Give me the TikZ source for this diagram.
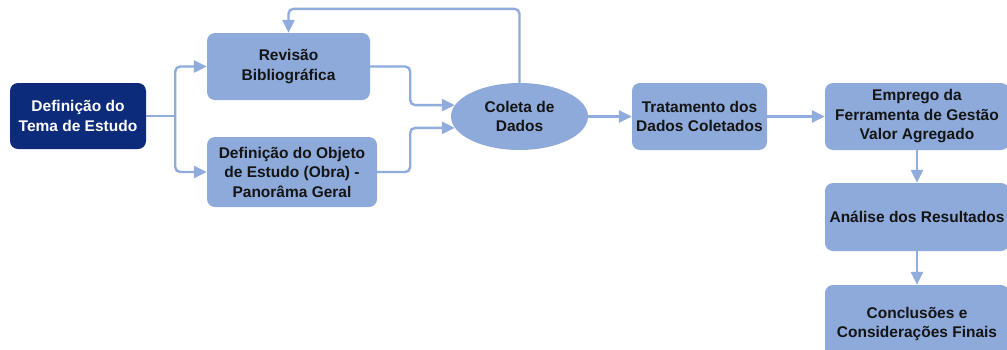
\documentclass[tikz,border=0pt]{standalone}
\usepackage{fontspec}
\setmainfont{Liberation Sans}
\usetikzlibrary{arrows.meta,shapes.geometric}

\definecolor{caixa}{HTML}{8EAADB}
\definecolor{escuro}{HTML}{0D2B7B}
\definecolor{seta}{HTML}{8FACDC}
\definecolor{texto}{HTML}{141414}

\begin{document}
\begin{tikzpicture}[x=1pt,y=-1pt,
   etapa/.style={draw=none,fill=caixa,rounded corners=8pt,align=center,
      text=texto,font=\fontsize{15.5}{19.5}\selectfont\bfseries,inner sep=2pt},
   inicio/.style={etapa,fill=escuro,text=white},
   coleta/.style={ellipse,fill=caixa,align=center,text=texto,
      font=\fontsize{15.5}{19.5}\selectfont\bfseries,inner sep=0pt},
   seta/.style={draw=seta,line width=2.4pt,rounded corners=5pt,
      -{Triangle[length=13pt,width=12pt]}}]
   \useasboundingbox (0,0) rectangle (1007,349);

   %% Etapas
   \node[inicio,minimum width=136pt,minimum height=66pt] (tema) at (78,116)
      {Definição do\\Tema de Estudo};
   \node[etapa,minimum width=163pt,minimum height=67pt] (revisao) at (288.5,66.5)
      {Revisão\\Bibliográfica};
   \node[etapa,minimum width=170pt,minimum height=70pt] (objeto) at (292,172)
      {Definição do Objeto\\de Estudo (Obra) -\\Panorâma Geral};
   \node[coleta,minimum width=137pt,minimum height=67pt] (dados) at (519.5,116.5)
      {Coleta de\\Dados};
   \node[etapa,minimum width=135pt,minimum height=67pt] (tratamento) at (699.5,116.5)
      {Tratamento dos\\Dados Coletados};
   \node[etapa,minimum width=184pt,minimum height=67pt] (emprego) at (917,116.5)
      {Emprego da\\Ferramenta de Gestão\\Valor Agregado};
   \node[etapa,minimum width=184pt,minimum height=68pt] (analise) at (917,217)
      {Análise dos Resultados};
   \node[etapa,minimum width=184pt,minimum height=78pt] (conclusoes) at (917,324)
      {Conclusões e\\Considerações Finais};

   %% Setas
   \draw[seta,-] (tema.east) -- ++(29,0) coordinate (ramo);
   \draw[seta] (ramo) |- (revisao.west);
   \draw[seta] (ramo) |- (objeto.west);
   \draw[seta] (revisao.east) -- ++(40,0) |- (dados.170);
   \draw[seta] (objeto.east) -- ++(33,0) |- (dados.190);
   \draw[seta] (dados.north) -- ++(0,-74) -| (revisao.north);
   \draw[seta] (dados.east) -- (tratamento.west);
   \draw[seta] (tratamento.east) -- (emprego.west);
   \draw[seta] (emprego.south) -- (analise.north);
   \draw[seta] (analise.south) -- (conclusoes.north);
\end{tikzpicture}
\end{document}
